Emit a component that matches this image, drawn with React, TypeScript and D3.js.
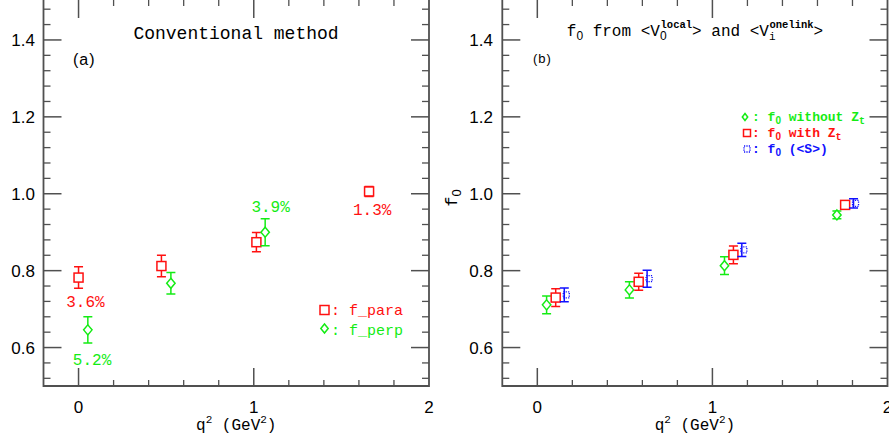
import React, { useRef, useEffect } from 'react';
import * as d3 from 'd3';

// ---- data ----
const xTickVals = [0, 1, 2];
const yTickVals = [0.6, 0.8, 1.0, 1.2, 1.4];

// panel (a): conventional method
const paraQ2 = [0, 0.473, 1.015, 1.658];
const paraVal = [0.782, 0.812, 0.874, 1.006];
const paraErr = [0.028, 0.028, 0.025, 0.013];

const perpQ2 = [0.053, 0.527, 1.065];
const perpVal = [0.646, 0.767, 0.9];
const perpErr = [0.034, 0.028, 0.035];

const pctText = ['3.6%', '5.2%', '3.9%', '1.3%'];
const pctQ2 = [0.039, 0.077, 1.096, 1.676];
const pctVal = [0.706, 0.555, 0.953, 0.945];
const pctColor = ['red', 'green', 'green', 'red'];

// panel (b): f0 from <V0 local> and <Vi onelink>
const noZtQ2 = [0.053, 0.526, 1.069, 1.711];
const noZtVal = [0.711, 0.75, 0.813, 0.945];
const noZtErr = [0.023, 0.021, 0.023, 0.01];

const withZtQ2 = [0.105, 0.579, 1.12, 1.758];
const withZtVal = [0.73, 0.771, 0.841, 0.971];
const withZtErr = [0.023, 0.022, 0.023, 0.01];

const sQ2 = [0.154, 0.627, 1.168, 1.806];
const sVal = [0.737, 0.779, 0.854, 0.975];
const sErr = [0.018, 0.022, 0.017, 0.012];

const RED = '#ff1010';
const GREEN = '#14ec14';
const BLUE = '#1010ff';
const AXIS = '#505050';
const MONO = '"Liberation Mono", "DejaVu Sans Mono", monospace';
const SANS = '"Liberation Sans", Arial, sans-serif';

type G = d3.Selection<SVGGElement, unknown, null, undefined>;

const App = () => {
    const ref = useRef<SVGSVGElement>(null);

    useEffect(() => {
        const root = d3.select(ref.current);
        root.selectAll('*').remove();

        const y = d3.scaleLinear().domain([0.5, 1.5]).range([386, 1.5]);

        const drawFrame = (g: G, x: d3.ScaleLinear<number, number>, labelRight: number) => {
            const [x0, x1] = x.range();
            const yb = y(0.5), yt = y(1.5) - 3;
            g.append('path')
                .attr('d', `M${x0},${yt}V${yb}H${x1}V${yt}`)
                .attr('fill', 'none').attr('stroke', AXIS).attr('stroke-width', 1.8);

            // y ticks, mirrored on right
            const yMinor = d3.range(0.52, 1.5, 0.04).filter(v => !yTickVals.some(t => Math.abs(t - v) < 1e-6));
            yTickVals.forEach(v => {
                g.append('line').attr('x1', x0).attr('x2', x0 + 18).attr('y1', y(v)).attr('y2', y(v)).attr('stroke', AXIS).attr('stroke-width', 1.5);
                g.append('line').attr('x1', x1).attr('x2', x1 - 18).attr('y1', y(v)).attr('y2', y(v)).attr('stroke', AXIS).attr('stroke-width', 1.5);
                g.append('text').attr('x', labelRight).attr('y', y(v) + 6)
                    .attr('text-anchor', 'end').attr('font-family', SANS).attr('font-size', 17)
                    .text(d3.format('.1f')(v));
            });
            yMinor.forEach(v => {
                g.append('line').attr('x1', x0).attr('x2', x0 + 7).attr('y1', y(v)).attr('y2', y(v)).attr('stroke', AXIS).attr('stroke-width', 1.3);
                g.append('line').attr('x1', x1).attr('x2', x1 - 7).attr('y1', y(v)).attr('y2', y(v)).attr('stroke', AXIS).attr('stroke-width', 1.3);
            });

            // x ticks, mirrored on top
            const xMinor = d3.range(-0.2, 2.0, 0.2).filter(v => v > -0.1 && !xTickVals.some(t => Math.abs(t - v) < 1e-6));
            xTickVals.forEach(v => {
                if (v < 2) {
                    g.append('line').attr('x1', x(v)).attr('x2', x(v)).attr('y1', yb).attr('y2', yb - 18).attr('stroke', AXIS).attr('stroke-width', 1.5);
                    g.append('line').attr('x1', x(v)).attr('x2', x(v)).attr('y1', 0).attr('y2', 18).attr('stroke', AXIS).attr('stroke-width', 1.5);
                }
                g.append('text').attr('x', x(v)).attr('y', 413)
                    .attr('text-anchor', 'middle').attr('font-family', SANS).attr('font-size', 17)
                    .text(String(v));
            });
            xMinor.forEach(v => {
                g.append('line').attr('x1', x(v)).attr('x2', x(v)).attr('y1', yb).attr('y2', yb - 6).attr('stroke', AXIS).attr('stroke-width', 1.3);
                g.append('line').attr('x1', x(v)).attr('x2', x(v)).attr('y1', 0).attr('y2', 6).attr('stroke', AXIS).attr('stroke-width', 1.3);
            });

            // x label q^2 (GeV^2)
            const cx = (x0 + x1) / 2;
            const t = g.append('text').attr('x', cx).attr('y', 430)
                .attr('text-anchor', 'middle').attr('font-family', MONO).attr('font-size', 16);
            t.append('tspan').text('q');
            t.append('tspan').attr('dy', -7).attr('font-size', 11).text('2');
            t.append('tspan').attr('dy', 7).text(' (GeV');
            t.append('tspan').attr('dy', -7).attr('font-size', 11).text('2');
            t.append('tspan').attr('dy', 7).text(')');
        };

        const errBar = (g: G, px: number, v: number, e: number, color: string) => {
            const top = y(v + e), bot = y(v - e);
            g.append('path')
                .attr('d', `M${px - 4.5},${top}H${px + 4.5}M${px},${top}V${bot}M${px - 4.5},${bot}H${px + 4.5}`)
                .attr('fill', 'none').attr('stroke', color).attr('stroke-width', 1.5);
        };
        const square = (g: G, px: number, py: number, color: string, s = 4.5) => {
            g.append('rect').attr('x', px - s).attr('y', py - s).attr('width', 2 * s).attr('height', 2 * s)
                .attr('fill', 'white').attr('stroke', color).attr('stroke-width', 1.5);
        };
        const diamond = (g: G, px: number, py: number, color: string, s = 5) => {
            g.append('path').attr('d', `M${px},${py - s}L${px + s - 0.8},${py}L${px},${py + s}L${px - s + 0.8},${py}Z`)
                .attr('fill', 'white').attr('stroke', color).attr('stroke-width', 1.5);
        };
        const dotted = (g: G, px: number, py: number, color: string, s = 3.5) => {
            g.append('rect').attr('x', px - s).attr('y', py - s).attr('width', 2 * s).attr('height', 2 * s)
                .attr('fill', 'none').attr('stroke', color).attr('stroke-width', 1.3).attr('stroke-dasharray', '1.2,1.2');
        };
        const colorOf = (c: string) => (c === 'red' ? RED : GREEN);

        // ---------- panel (a) ----------
        const xa = d3.scaleLinear().domain([-0.2, 2]).range([43.5, 429]);
        const ga = root.append('g') as unknown as G;
        drawFrame(ga, xa, 35);

        paraQ2.forEach((q, i) => {
            errBar(ga, xa(q), paraVal[i], paraErr[i], RED);
            square(ga, xa(q), y(paraVal[i]), RED, 4.5);
        });
        perpQ2.forEach((q, i) => {
            errBar(ga, xa(q), perpVal[i], perpErr[i], GREEN);
            diamond(ga, xa(q), y(perpVal[i]), GREEN);
        });
        pctText.forEach((s, i) => {
            ga.append('text').attr('x', xa(pctQ2[i])).attr('y', y(pctVal[i]))
                .attr('text-anchor', 'middle').attr('font-family', MONO).attr('font-size', 16)
                .attr('fill', colorOf(pctColor[i])).text(s);
        });
        ga.append('text').attr('x', 236).attr('y', 39).attr('text-anchor', 'middle')
            .attr('font-family', MONO).attr('font-size', 18).text('Conventional method');
        ga.append('text').attr('x', 73).attr('y', 65).attr('font-family', SANS).attr('font-size', 16)
            .attr('letter-spacing', 1).text('(a)');
        // legend (a)
        square(ga, 324.5, 310, RED, 4.5);
        ga.append('text').attr('x', 331).attr('y', 315).attr('font-family', MONO).attr('font-size', 15)
            .attr('fill', RED).text(': f_para');
        diamond(ga, 324.5, 328.5, GREEN, 4.5);
        ga.append('text').attr('x', 331).attr('y', 335).attr('font-family', MONO).attr('font-size', 15)
            .attr('fill', GREEN).text(': f_perp');

        // ---------- panel (b) ----------
        const xb = d3.scaleLinear().domain([-0.2, 2]).range([502.3, 887.5]);
        const gb = root.append('g') as unknown as G;
        drawFrame(gb, xb, 493);

        noZtQ2.forEach((q, i) => {
            errBar(gb, xb(q), noZtVal[i], noZtErr[i], GREEN);
            diamond(gb, xb(q), y(noZtVal[i]), GREEN);
        });
        withZtQ2.forEach((q, i) => {
            errBar(gb, xb(q), withZtVal[i], withZtErr[i], RED);
            square(gb, xb(q), y(withZtVal[i]), RED, 4.5);
        });
        sQ2.forEach((q, i) => {
            errBar(gb, xb(q), sVal[i], sErr[i], BLUE);
            dotted(gb, xb(q) + 2, y(sVal[i]), BLUE, 3);
        });

        // title (b)
        const tb = gb.append('text').attr('x', 695).attr('y', 36).attr('text-anchor', 'middle')
            .attr('font-family', MONO).attr('font-size', 16);
        tb.append('tspan').text('f');
        tb.append('tspan').attr('dy', 4).attr('font-size', 12).attr('font-family', SANS).text('0');
        tb.append('tspan').attr('dy', -4).text(' from <V');
        tb.append('tspan').attr('dy', 4).attr('font-size', 12).attr('font-family', SANS).text('0');
        tb.append('tspan').attr('dy', -12).attr('dx', -6).attr('font-size', 10.5).attr('font-weight', 'bold').text('local');
        tb.append('tspan').attr('dy', 8).text('> and <V');
        tb.append('tspan').attr('dy', 4).attr('font-size', 11).text('i');
        tb.append('tspan').attr('dy', -12).attr('dx', -6).attr('font-size', 10.5).attr('font-weight', 'bold').text('onelink');
        tb.append('tspan').attr('dy', 8).text('>');

        gb.append('text').attr('x', 533).attr('y', 63).attr('font-family', SANS).attr('font-size', 13)
            .attr('letter-spacing', 1).text('(b)');

        // y label f0
        const yl = gb.append('text').attr('transform', 'translate(457,198) rotate(-90)')
            .attr('text-anchor', 'middle').attr('font-family', MONO).attr('font-size', 17);
        yl.append('tspan').text('f');
        yl.append('tspan').attr('dy', 4).attr('font-size', 13).attr('font-family', SANS).text('0');

        // legend (b)
        const legRows = [
            { color: GREEN, label: ' without Z', mk: 'diamond', y: 121 },
            { color: RED, label: ' with Z', mk: 'square', y: 137 },
            { color: BLUE, label: ' (<S>)', mk: 'dotted', y: 153 },
        ];
        legRows.forEach(r => {
            if (r.mk === 'diamond') diamond(gb, 745, r.y - 4, r.color, 3.5);
            else if (r.mk === 'square') square(gb, 747, r.y - 4, r.color, 3.5);
            else dotted(gb, 747, r.y - 4, r.color, 3);
            const t = gb.append('text').attr('x', 752).attr('y', r.y)
                .attr('font-family', MONO).attr('font-size', 13).attr('font-weight', 'bold').attr('fill', r.color);
            t.append('tspan').text(': f');
            t.append('tspan').attr('dy', 3).attr('font-size', 10).attr('font-family', SANS).text('0');
            t.append('tspan').attr('dy', -3).text(r.label);
            if (r.mk !== 'dotted') t.append('tspan').attr('dy', 3).attr('font-size', 10).text('t');
        });
    }, []);

    return (
        <svg ref={ref} width={889} height={446}
            style={{ position: 'absolute', left: 0, top: 0, background: 'white' }} />
    );
};

export default App;
